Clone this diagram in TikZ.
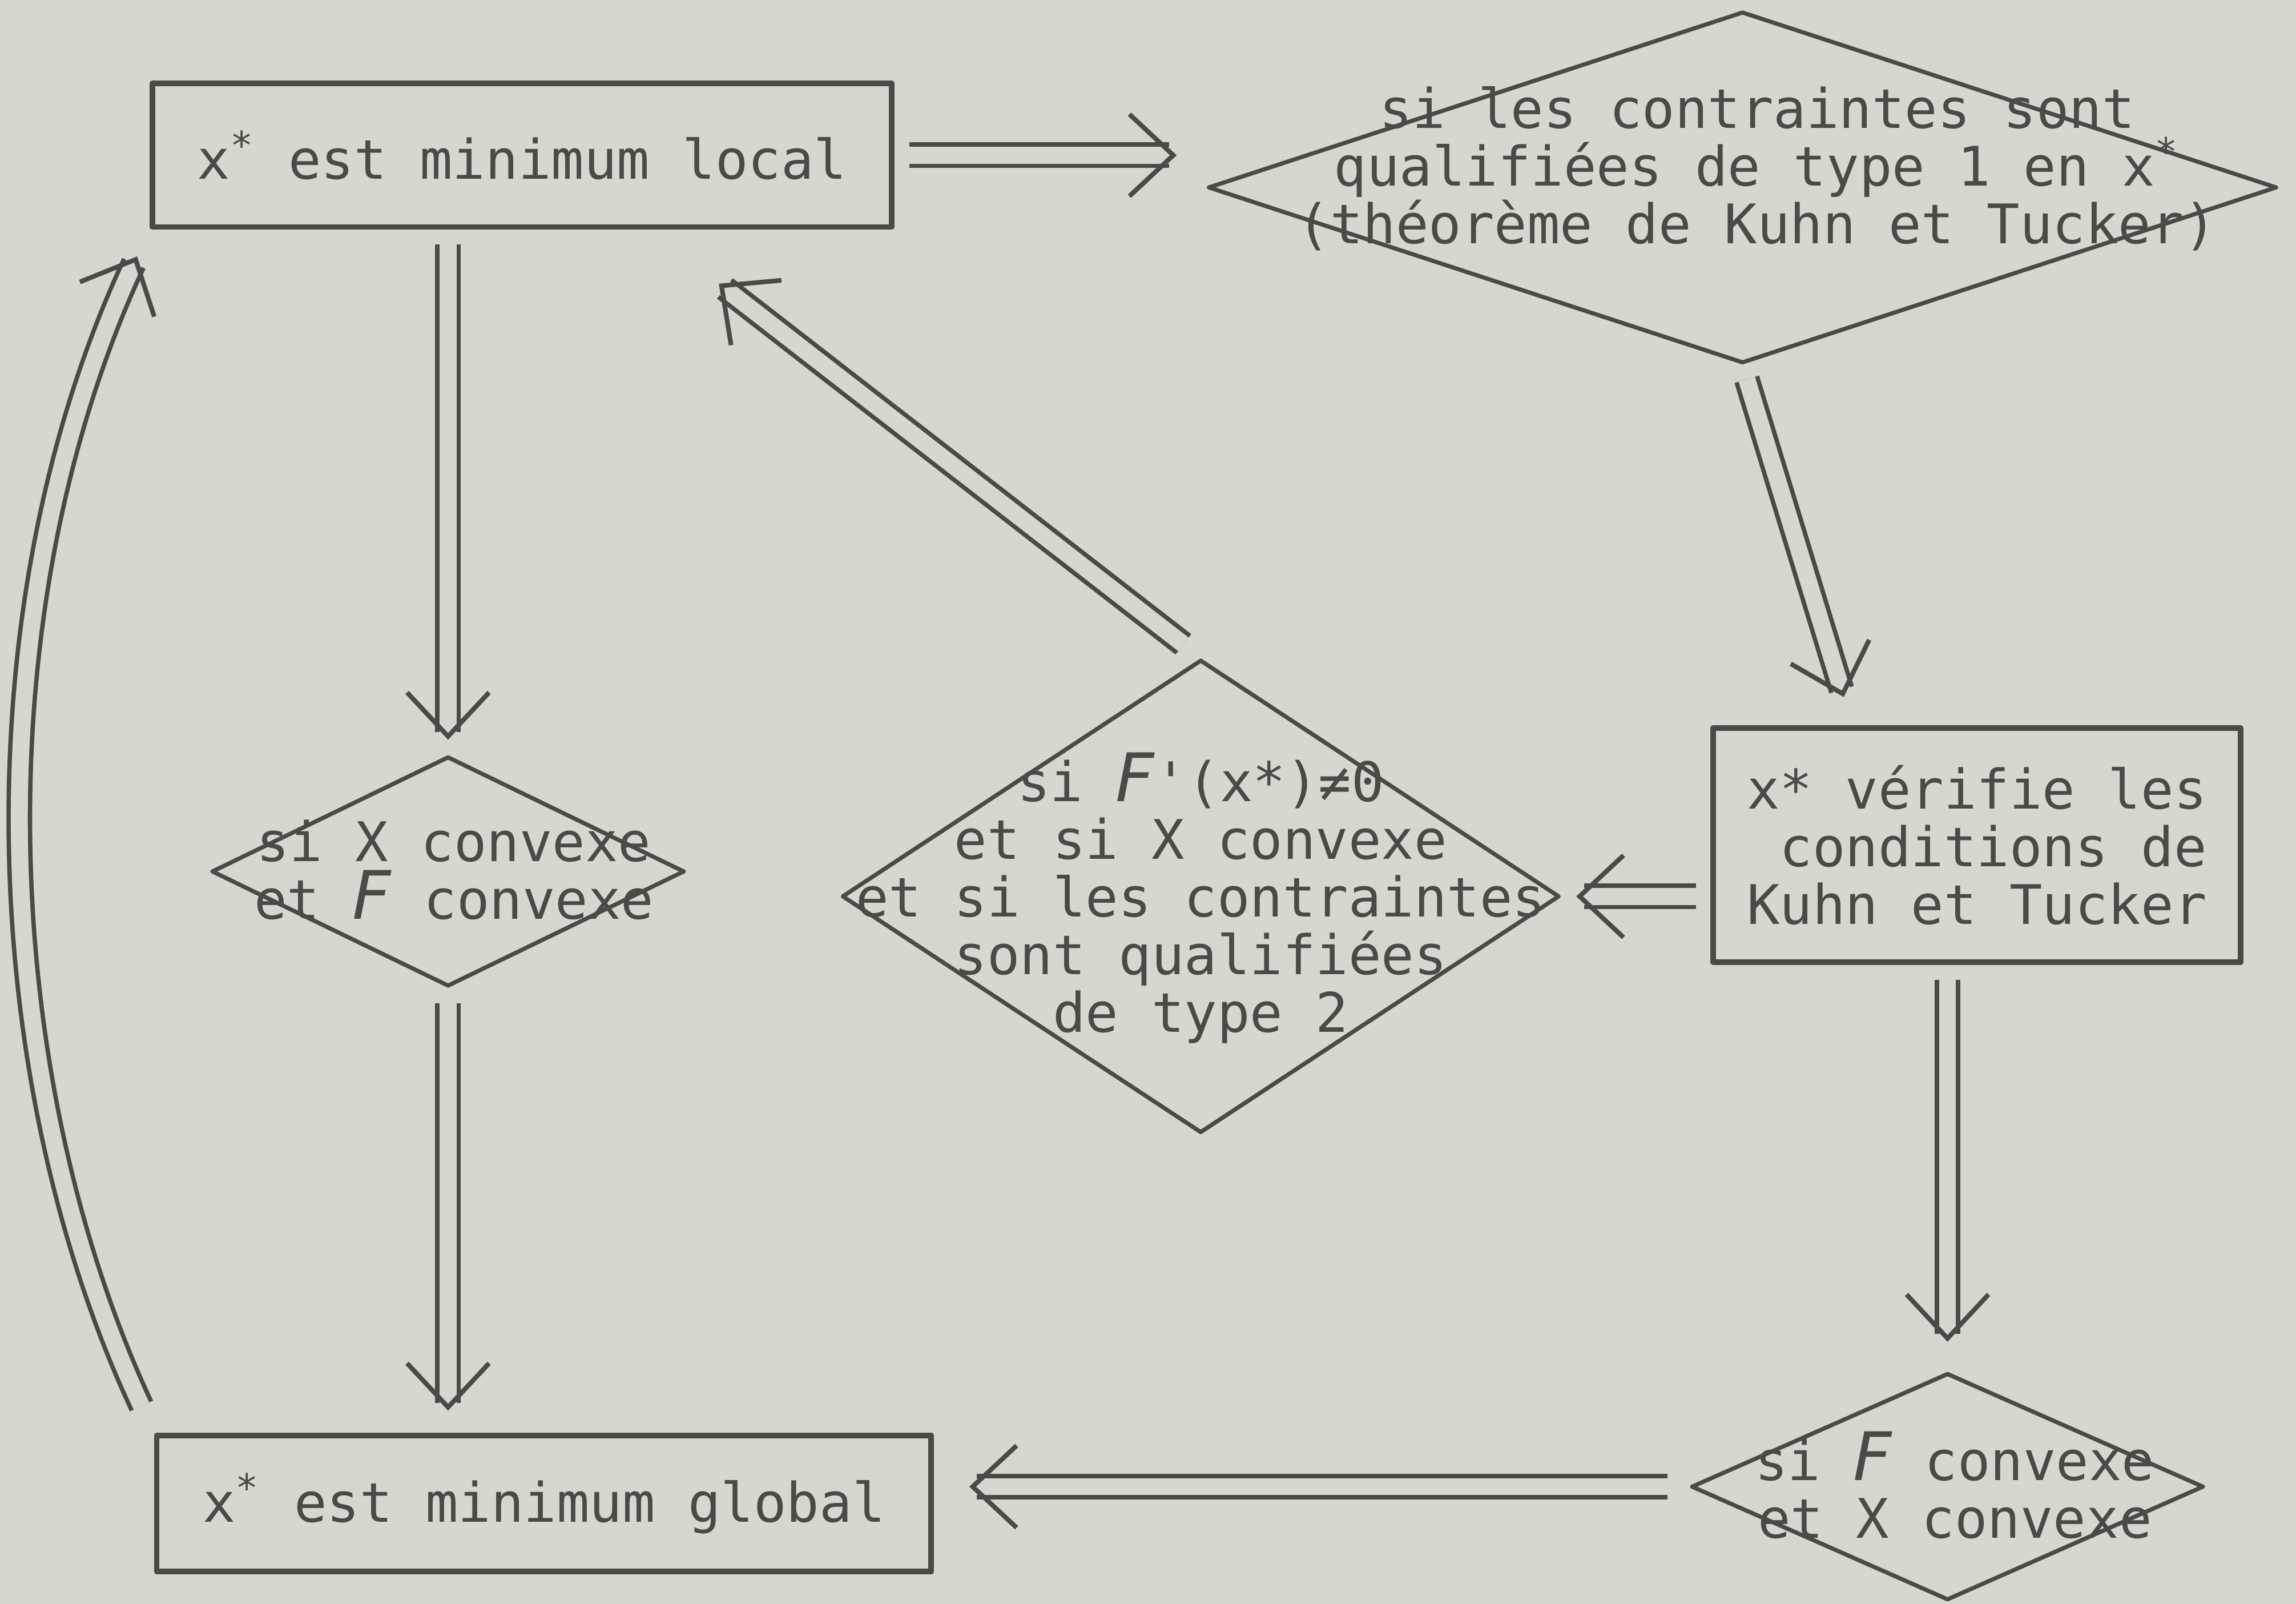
\documentclass[tikz,border=0pt]{standalone}
\usepackage{fontspec}
\setmonofont{DejaVu Sans Mono}
\setsansfont{DejaVu Sans}
\usepackage{tikz}
\usetikzlibrary{shapes,arrows,arrows.meta,calc}
\definecolor{paper}{HTML}{D8D7CF}
\definecolor{ink}{HTML}{4A4A47}
\newcommand{\FF}{{\sffamily\itshape\fontsize{13}{11}\selectfont F}}
\newcommand{\xs}{x\textsuperscript{*}}
% double shaft + open chevron head: start, end, shorten start, shorten end
\newcommand{\impl}[4]{%
    \path ($(#1)!#3!(#2)$) coordinate (s) ($(#2)!#4!(#1)$) coordinate (e);
    \draw[imp, shorten >=1.5pt] (s) -- (e);
    \draw[tip] ($(e)!1pt!(s)$) -- (e);
}

\begin{document}
\begin{tikzpicture}[
        ink, line join=round,
        box/.style={rectangle, draw, line width=1.1pt},
        cond/.style={diamond, draw, line width=0.8pt, inner sep=0pt},
        txt/.style={align=center, font=\ttfamily\fontsize{10.6}{11.2}\selectfont, text=ink, inner sep=0pt},
        imp/.style={double=paper, double distance=3.3pt, line width=0.85pt},
        tip/.style={line width=0.9pt, -{Straight Barb[length=3mm, width=5.6mm, line width=0.9pt]}}
    ]
        % Background
        \fill[paper] (0,0) rectangle (15.68,10.95);
        \useasboundingbox (0,0) rectangle (15.68,10.95);

        % Boxes
        \node[box, txt, minimum width=5.05cm, minimum height=0.98cm] (local) at (3.565,9.89) {\xs{} est minimum local};
        \node[box, txt, align=right, minimum width=3.6cm, minimum height=1.6cm] (kkt) at (13.50,5.18)
            {x* vérifie les\\conditions de\\Kuhn et Tucker};
        \node[box, txt, minimum width=5.29cm, minimum height=0.93cm] (global) at (3.715,0.685) {\xs{} est minimum global};

        % Conditions (text may run over the edges)
        \node[cond, minimum width=7.3cm, minimum height=2.4cm] (qual1) at (11.90,9.67) {};
        \node[txt] (qual1txt) at (12.00,9.80)
            {si les contraintes sont\\qualifiées de type 1 en \xs\\(théorème de Kuhn et Tucker)};

        \node[cond, minimum width=4.9cm, minimum height=3.23cm] (qual2) at (8.20,4.83) {};
        \node[txt] (qual2txt) at (8.20,4.82)
            {si \FF'(x*)≠0\\et si X convexe\\et si les contraintes\\sont qualifiées\\de type 2};

        \node[cond, minimum width=3.23cm, minimum height=1.57cm] (conv1) at (3.06,5.00) {};
        \node[txt] (conv1txt) at (3.10,5.01) {si X convexe\\et \FF{} convexe};

        \node[cond, minimum width=3.5cm, minimum height=1.55cm] (conv2) at (13.30,0.80) {};
        \node[txt] (conv2txt) at (13.35,0.81) {si \FF{} convexe\\et X convexe};

        % Free ends of the connectors
        \coordinate (q1in) at (local.east -| qual1.west);
        \coordinate (kktin) at ([xshift=-8.5mm]kkt.north);
        \coordinate (q2out) at (kkt.west |- qual2.east);
        \coordinate (locin) at ([xshift=8.7mm]local.south);
        \coordinate (locout) at (local.south -| conv1.north);
        \coordinate (glin) at (conv1.south |- global.north);
        \coordinate (kktout) at (kkt.south -| conv2.north);
        \coordinate (glin2) at (conv2.west -| global.east);

        % Implications
        \impl{local.east}{q1in}{1mm}{2mm}
        \impl{qual1.south}{kktin}{1mm}{2mm}
        \impl{q2out}{qual2.east}{1mm}{1mm}
        \impl{qual2.north}{locin}{1.5mm}{6mm}
        \impl{locout}{conv1.north}{1mm}{1mm}
        \impl{conv1.south}{glin}{1mm}{1.5mm}
        \impl{kktout}{conv2.north}{1mm}{2mm}
        \impl{conv2.west}{glin2}{1.5mm}{2.4mm}

        % Back to the local minimum
        \coordinate (bendend) at ([shift={(245:2mm)}]local.south west);
        \draw[imp, shorten <=2mm, shorten >=1.5pt] (global.north west) to[out=115, in=-115, looseness=0.85] (bendend);
        \draw[tip] ([shift={(245:1pt)}]bendend) -- (bendend);
    \end{tikzpicture}
\end{document}
